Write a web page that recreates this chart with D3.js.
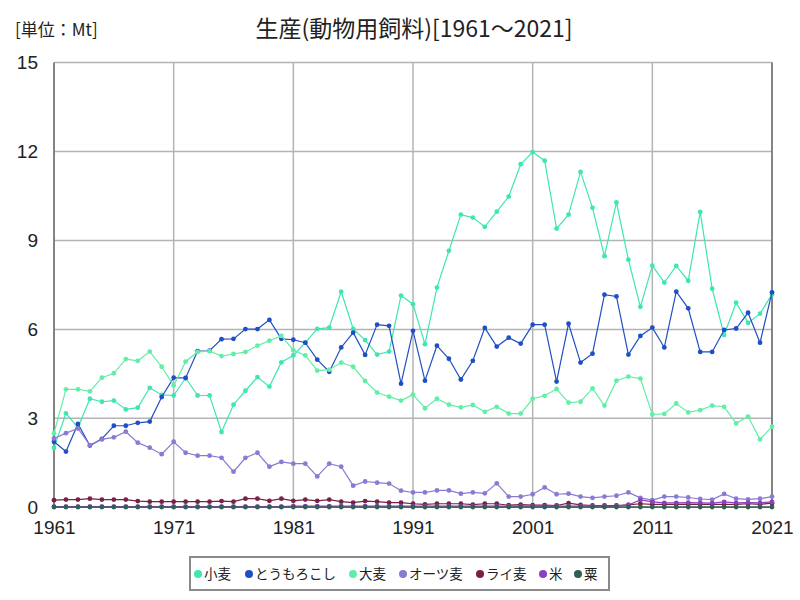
<!DOCTYPE html>
<html lang="ja">
<head>
<meta charset="utf-8">
<style>
body { margin:0; background:#fff; }
svg text { font-family: "Noto Sans CJK JP", "Noto Sans", sans-serif; }
.num { font-family: "Liberation Sans Narrow", "Liberation Sans", sans-serif; }
</style>
<script src="https://cdn.jsdelivr.net/npm/d3@7"></script>
</head>
<body>
<div id="chart"></div>
<script>

var width = 800
var height = 600

var years = d3.range(1961, 2022)
var yTicks = [0, 3, 6, 9, 12, 15]
var xTicks = [1961, 1971, 1981, 1991, 2001, 2011, 2021]

var names = ["小麦", "とうもろこし", "大麦", "オーツ麦", "ライ麦", "米", "粟"]
var colors = ["#3de6b4", "#1f4fc4", "#62eea6", "#8a7bd2", "#7a1f45", "#8e3fbf", "#2d6150"]

var wheat = [2.0,3.17,2.69,3.66,3.56,3.6,3.3,3.36,4.03,3.79,
	3.77,4.36,3.77,3.77,2.54,3.46,3.93,4.39,4.07,4.89,
	5.12,5.55,6.02,6.06,7.27,6.02,5.64,5.15,5.25,7.14,
	6.85,5.5,7.41,8.65,9.87,9.77,9.46,9.97,10.48,11.57,
	11.98,11.69,9.4,9.87,11.31,10.1,8.47,10.28,8.35,6.76,
	8.15,7.58,8.14,7.64,9.96,7.37,5.81,6.9,6.22,6.53,7.18]
var maize = [2.21,1.88,2.81,2.08,2.31,2.75,2.75,2.85,2.89,3.72,
	4.37,4.36,5.27,5.28,5.67,5.68,6.01,6.01,6.32,5.68,
	5.65,5.55,4.98,4.57,5.39,5.89,5.14,6.16,6.12,4.17,
	5.95,4.27,5.45,5.01,4.31,4.94,6.05,5.42,5.72,5.52,
	6.16,6.16,4.24,6.19,4.88,5.18,7.17,7.11,5.15,5.78,
	6.06,5.39,7.27,6.71,5.24,5.24,5.98,6.03,6.56,5.55,7.25]
var barley = [2.5,3.98,3.98,3.91,4.37,4.52,5.0,4.94,5.25,4.74,
	4.11,4.91,5.24,5.27,5.1,5.17,5.24,5.45,5.62,5.78,
	5.3,5.12,4.61,4.64,4.88,4.74,4.26,3.87,3.73,3.6,
	3.8,3.34,3.66,3.46,3.37,3.45,3.22,3.39,3.16,3.16,
	3.66,3.76,3.99,3.53,3.56,4.01,3.43,4.27,4.41,4.34,
	3.13,3.15,3.5,3.2,3.28,3.43,3.39,2.83,3.06,2.29,2.72]
var oats = [2.32,2.5,2.66,2.1,2.29,2.36,2.55,2.18,2.01,1.79,
	2.21,1.84,1.74,1.74,1.67,1.2,1.67,1.84,1.37,1.53,
	1.47,1.47,1.04,1.47,1.37,0.73,0.87,0.83,0.8,0.56,
	0.5,0.5,0.57,0.57,0.46,0.5,0.47,0.81,0.36,0.36,
	0.44,0.67,0.44,0.46,0.36,0.32,0.36,0.39,0.5,0.32,
	0.24,0.36,0.36,0.33,0.28,0.26,0.45,0.29,0.27,0.29,0.36]
var rye = [0.24,0.26,0.26,0.29,0.26,0.26,0.26,0.21,0.19,0.19,
	0.19,0.19,0.19,0.19,0.21,0.19,0.29,0.29,0.22,0.29,
	0.22,0.26,0.22,0.26,0.19,0.16,0.21,0.19,0.16,0.16,
	0.12,0.1,0.12,0.12,0.12,0.09,0.12,0.12,0.07,0.09,
	0.07,0.07,0.06,0.14,0.08,0.06,0.06,0.06,0.08,0.12,
	0.1,0.1,0.1,0.1,0.1,0.1,0.1,0.1,0.12,0.1,0.14]
var rice = [0.02,0.02,0.02,0.02,0.02,0.02,0.02,0.02,0.02,0.02,
	0.02,0.02,0.02,0.02,0.02,0.02,0.02,0.02,0.02,0.02,
	0.04,0.04,0.04,0.04,0.04,0.04,0.04,0.04,0.04,0.04,
	0.04,0.04,0.04,0.04,0.04,0.04,0.04,0.04,0.04,0.04,
	0.04,0.04,0.04,0.04,0.04,0.04,0.04,0.04,0.08,0.25,
	0.18,0.15,0.15,0.16,0.15,0.14,0.18,0.15,0.16,0.15,0.18]
var millet = [0.01,0.01,0.01,0.01,0.01,0.01,0.01,0.01,0.01,0.01,
	0.01,0.01,0.01,0.01,0.01,0.01,0.01,0.01,0.01,0.01,
	0.01,0.01,0.01,0.01,0.01,0.01,0.01,0.01,0.01,0.01,
	0.01,0.01,0.01,0.01,0.01,0.01,0.01,0.01,0.01,0.01,
	0.01,0.01,0.01,0.01,0.01,0.01,0.01,0.01,0.01,0.01,
	0.01,0.01,0.01,0.01,0.01,0.01,0.01,0.01,0.01,0.01,0.01]

var series = [wheat, maize, barley, oats, rye, rice, millet]

var margin = {left: 54, right: 28, top: 62, bottom: 92}

var svg = d3.select('#chart').append("svg")
	.attr("width", width)
	.attr("height", height)

var x = d3.scaleLinear()
	.domain([1961, 2021])
	.range([margin.left, width - margin.right])

var y = d3.scaleLinear()
	.domain([0, 15])
	.range([height - margin.bottom - 0.7, margin.top + 0.5])

// grid
var grid = svg.append("g")
grid.selectAll(".vg").data(xTicks).enter().append("line")
	.attr("x1", function(d) { return x(d) }).attr("x2", function(d) { return x(d) })
	.attr("y1", y(0)).attr("y2", y(15))
	.attr("stroke", "#b4b4b4").attr("stroke-width", 1.5)
grid.selectAll(".hg").data(yTicks).enter().append("line")
	.attr("x1", x(1961)).attr("x2", x(2021))
	.attr("y1", function(d) { return y(d) }).attr("y2", function(d) { return y(d) })
	.attr("stroke", "#b4b4b4").attr("stroke-width", 1.5)

// frame
svg.append("line").attr("x1", x(1961)).attr("x2", x(1961)).attr("y1", y(0)).attr("y2", y(15))
	.attr("stroke", "#6e6e6e").attr("stroke-width", 1.5)
svg.append("line").attr("x1", x(2021)).attr("x2", x(2021)).attr("y1", y(0)).attr("y2", y(15))
	.attr("stroke", "#6e6e6e").attr("stroke-width", 1.5)
svg.append("line").attr("x1", x(1961)).attr("x2", x(2021)).attr("y1", y(0)).attr("y2", y(0))
	.attr("stroke", "#6e6e6e").attr("stroke-width", 1.5)

// axes labels
svg.append("g").attr("transform", "translate(" + (x(1961) - 16) + ",0)")
	.call(d3.axisLeft(y).tickValues(yTicks).tickSize(0).tickPadding(0))
	.call(function(g) { g.select(".domain").remove() })
	.selectAll("text")
	.attr("class", "num")
	.attr("font-size", 19)
	.attr("fill", "#222")

svg.append("g").attr("transform", "translate(0," + (y(0) + 13) + ")")
	.call(d3.axisBottom(x).tickValues(xTicks).tickFormat(d3.format("d")).tickSize(0).tickPadding(0))
	.call(function(g) { g.select(".domain").remove() })
	.selectAll("text")
	.attr("class", "num")
	.attr("font-size", 19)
	.attr("fill", "#222")

// lines
var line = d3.line()
	.x(function(d, i) { return x(years[i]) })
	.y(function(d) { return y(d) })

var lines = svg.append("g")
series.forEach(function(s, k) {
	var g = lines.append("g")
	g.append("path")
		.attr("d", line(s))
		.attr("fill", "none")
		.attr("stroke", colors[k])
		.attr("stroke-width", 1.2)
	g.selectAll("circle").data(s).enter().append("circle")
		.attr("cx", function(d, i) { return x(years[i]) })
		.attr("cy", function(d) { return y(d) })
		.attr("r", 2.4)
		.attr("fill", colors[k])
})

// title
svg.append("text")
	.attr("x", 414).attr("y", 37)
	.attr("text-anchor", "middle")
	.attr("font-size", 23)
	.attr("fill", "#222")
	.text("生産(動物用飼料)[1961～2021]")

svg.append("text")
	.attr("x", 15).attr("y", 36)
	.attr("font-size", 17)
	.attr("fill", "#222")
	.text("[単位：Mt]")

// legend
var leg = svg.append("g")
leg.append("rect")
	.attr("x", 190).attr("y", 557).attr("width", 419).attr("height", 33)
	.attr("fill", "#fff").attr("stroke", "#8a8a8a").attr("stroke-width", 2)

var legX = [198, 249, 353, 403, 480, 543, 578]
names.forEach(function(n, k) {
	var it = leg.append("g").attr("transform", "translate(" + legX[k] + ",574)")
	it.append("circle").attr("cx", 0).attr("cy", 0).attr("r", 4).attr("fill", colors[k])
	it.append("text").attr("x", 6).attr("y", 5)
		.attr("font-size", 13.5).attr("fill", "#222")
		.text(n)
})

</script>
</body>
</html>
